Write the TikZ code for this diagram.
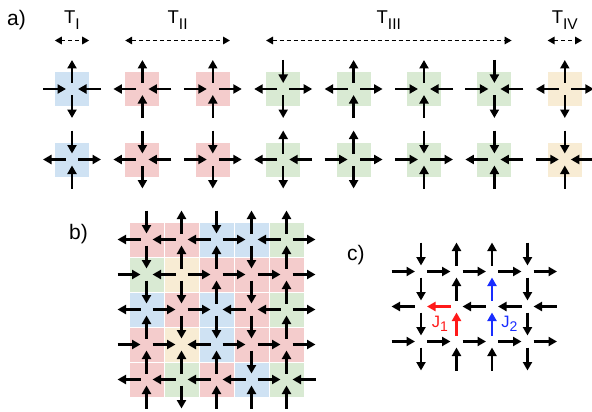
\documentclass[tikz,border=0pt]{standalone}
\usepackage{fontspec}
\setmainfont{Liberation Sans}
\usepackage{xcolor}
\definecolor{colorTypeI}{RGB}{207,226,243}
\definecolor{colorTypeII}{RGB}{244,204,204}
\definecolor{colorTypeIII}{RGB}{217,234,211}
\definecolor{colorTypeIV}{RGB}{248,236,212}
\definecolor{colorJone}{RGB}{255,25,25}
\definecolor{colorJtwo}{RGB}{25,45,255}
\usepackage{tikz}
\usetikzlibrary{arrows.meta, positioning}
\tikzset{
  vertex/.style={rectangle, minimum size=34, inner sep=0pt, draw=none},
  spin/.style={line width=2.5pt, shorten <=6pt, shorten >=6pt},
  inward/.style={->}, outward/.style={<-},
  goR/.style={->}, goL/.style={<-}, goD/.style={->}, goU/.style={<-},
  goLred/.style={<-, colorJone}, goUred/.style={<-, colorJone}, goUblue/.style={<-, colorJtwo},
  tspan/.style={<->, line width=1.6pt, dash pattern=on 4pt off 3pt, >={Triangle[length=7pt,width=7.5pt]}},
  panel/.style={anchor=base west, inner sep=0pt, font=\fontsize{21}{24}\selectfont},
  tlabel/.style={anchor=base, inner sep=0pt, font=\fontsize{18.5}{21}\selectfont},
  jlabel/.style={anchor=base, inner sep=0pt, font=\fontsize{16.5}{19}\selectfont},
}
\newcommand{\Tsub}[1]{T\raisebox{-6pt}{\fontsize{15.5}{16}\selectfont #1}}
\newcommand{\Jsub}[1]{J\raisebox{-4pt}{\fontsize{14}{15}\selectfont #1}}

\begin{document}
\begin{tikzpicture}[x=1pt, y=-1pt, >={Triangle[length=8.5pt,width=9pt]}]
\useasboundingbox (0,0) rectangle (592,412);
% a)
\node[panel] (pa) at (7,26) {a)};
\foreach \vname/\x/\y/\vtype/\armW/\armE/\armN/\armS in {
  a11/72/89/TypeI/inward/inward/outward/outward,
  a12/142.4/89/TypeII/outward/inward/outward/inward,
  a13/212.8/89/TypeII/inward/outward/outward/inward,
  a14/283.2/89/TypeIII/outward/outward/inward/outward,
  a15/353.6/89/TypeIII/outward/outward/outward/inward,
  a16/424/89/TypeIII/inward/inward/outward/inward,
  a17/494.4/89/TypeIII/inward/inward/inward/outward,
  a18/564.8/89/TypeIV/outward/outward/outward/outward,
  a21/72/159.5/TypeI/outward/outward/inward/inward,
  a22/142.4/159.5/TypeII/outward/inward/inward/outward,
  a23/212.8/159.5/TypeII/inward/outward/inward/outward,
  a24/283.2/159.5/TypeIII/outward/inward/outward/outward,
  a25/353.6/159.5/TypeIII/inward/outward/outward/outward,
  a26/424/159.5/TypeIII/inward/outward/inward/inward,
  a27/494.4/159.5/TypeIII/outward/inward/inward/inward,
  a28/564.8/159.5/TypeIV/inward/inward/inward/inward}{
  \node[vertex, fill=color\vtype] (\vname) at (\x,\y) {};
  \coordinate (\vname w) at (\x-35,\y);
  \coordinate (\vname e) at (\x+35,\y);
  \coordinate (\vname n) at (\x,\y-35);
  \coordinate (\vname s) at (\x,\y+35);
  \draw[spin,\armW] (\vname w) -- (\vname.center);
  \draw[spin,\armE] (\vname e) -- (\vname.center);
  \draw[spin,\armN] (\vname n) -- (\vname.center);
  \draw[spin,\armS] (\vname s) -- (\vname.center);
}
\coordinate (tline) at (0,40.5);
\node[tlabel] (tI) at (72,24) {\Tsub{I}};
\node[tlabel] (tII) at (177.6,24) {\Tsub{II}};
\node[tlabel] (tIII) at (388.8,24) {\Tsub{III}};
\node[tlabel] (tIV) at (564.8,24) {\Tsub{IV}};
\draw[tspan] (a11.west |- tline) -- (a11.east |- tline);
\draw[tspan] (a12.west |- tline) -- (a13.east |- tline);
\draw[tspan] (a14.west |- tline) -- (a17.east |- tline);
\draw[tspan] (a18.west |- tline) -- (a18.east |- tline);
% b)
\node[panel] (pb) at (69,239.3) {b)};
\foreach \i/\row in {1/{TypeII,TypeII,TypeI,TypeI,TypeIII},
                     2/{TypeIII,TypeIV,TypeII,TypeII,TypeII},
                     3/{TypeI,TypeII,TypeI,TypeII,TypeIII},
                     4/{TypeII,TypeIV,TypeI,TypeII,TypeII},
                     5/{TypeII,TypeIII,TypeII,TypeI,TypeIII}}
  \foreach \vtype [count=\j] in \row
    \node[vertex, fill=color\vtype] (b\i\j) at (111.5+35*\j,204.5+35*\i) {};
\foreach \k in {1,...,5} {
  \coordinate (b0\k) at (111.5+35*\k,204.5);
  \coordinate (b6\k) at (111.5+35*\k,414.5);
  \coordinate (b\k0) at (111.5,204.5+35*\k);
  \coordinate (b\k6) at (321.5,204.5+35*\k);
}
\foreach \i/\dirs in {1/{goL,goL,goL,goR,goL,goR},
                      2/{goR,goL,goR,goR,goR,goR},
                      3/{goL,goR,goR,goL,goL,goR},
                      4/{goR,goR,goL,goR,goR,goR},
                      5/{goL,goL,goL,goL,goR,goL}}
  \foreach \d [count=\k from 0] in \dirs {
    \pgfmathtruncatemacro{\kk}{\k+1}
    \draw[spin,\d] (b\i\k.center) -- (b\i\kk.center);
  }
\foreach \j/\dirs in {1/{goD,goD,goD,goU,goU,goU},
                      2/{goU,goU,goD,goD,goU,goD},
                      3/{goD,goU,goU,goD,goU,goU},
                      4/{goU,goD,goD,goD,goD,goU},
                      5/{goU,goU,goU,goU,goU,goU}}
  \foreach \d [count=\k from 0] in \dirs {
    \pgfmathtruncatemacro{\kk}{\k+1}
    \draw[spin,\d] (b\k\j.center) -- (b\kk\j.center);
  }
% c)
\node[panel] (pc) at (347,260) {c)};
\foreach \i in {0,...,4}
  \foreach \j in {0,...,5}
    \coordinate (c\i\j) at (385.5+35.5*\j,236.5+35*\i);
\foreach \i/\dirs in {1/{goR,goR,goR,goR,goR},
                      2/{goL,goLred,goL,goL,goL},
                      3/{goR,goR,goR,goR,goR}}
  \foreach \d [count=\k from 0] in \dirs {
    \pgfmathtruncatemacro{\kk}{\k+1}
    \draw[spin,\d] (c\i\k) -- (c\i\kk);
  }
\foreach \j/\dirs in {1/{goD,goD,goD,goD},
                      2/{goU,goU,goUred,goU},
                      3/{goU,goUblue,goUblue,goU},
                      4/{goD,goD,goD,goD}}
  \foreach \d [count=\k from 0] in \dirs {
    \pgfmathtruncatemacro{\kk}{\k+1}
    \draw[spin,\d] (c\k\j) -- (c\kk\j);
  }
\node[jlabel, text=colorJone] (j1) at (440,327) {\Jsub{1}};
\node[jlabel, text=colorJtwo] (j2) at (509.5,327) {\Jsub{2}};
\end{tikzpicture}
\end{document}
